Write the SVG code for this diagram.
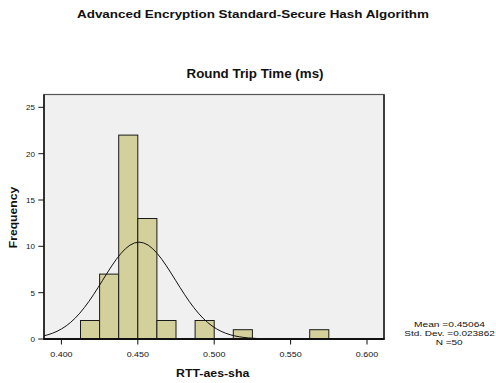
<svg xmlns="http://www.w3.org/2000/svg" width="496" height="383" viewBox="0 0 496 383">
  <style>
    text { font-family: "Liberation Sans", Arial, sans-serif; fill: #111; }
    .title { font-size: 11.6px; font-weight: bold; }
    .axis-title { font-size: 11.5px; font-weight: bold; }
    .tick-label { font-size: 8px; }
    .stats { font-size: 8px; }
    .bar { fill: #d4d09c; stroke: #1a1a1a; stroke-width: 1; }
    .tick { stroke: #111; stroke-width: 1; }
    .curve { fill: none; stroke: #111; stroke-width: 1; }
  </style>

  <rect width="496" height="383" fill="#ffffff"/>

  <!-- titles -->
  <text class="title" x="253" y="18.3" text-anchor="middle" textLength="352" lengthAdjust="spacingAndGlyphs">Advanced Encryption Standard-Secure Hash Algorithm</text>
  <text class="title" x="255" y="77.5" text-anchor="middle" style="font-size:12.4px" textLength="137" lengthAdjust="spacingAndGlyphs">Round Trip Time (ms)</text>

  <!-- plot area -->
  <rect x="44" y="94.5" width="340" height="244.5" fill="#f0f0f0" stroke="#555" stroke-width="1.2"/>
  <line x1="384" y1="94.5" x2="384" y2="339" stroke="#222" stroke-width="1.5"/>

  <!-- histogram bars (bin width 0.0125) -->
  <g id="bars">
    <rect class="bar" x="80.5" y="320.5" width="19.1" height="18.5"/>
    <rect class="bar" x="99.6" y="274.1" width="19.1" height="64.9"/>
    <rect class="bar" x="118.7" y="135.1" width="19.1" height="203.9"/>
    <rect class="bar" x="137.8" y="218.5" width="19.1" height="120.5"/>
    <rect class="bar" x="156.9" y="320.5" width="19.1" height="18.5"/>
    <rect class="bar" x="195.1" y="320.5" width="19.1" height="18.5"/>
    <rect class="bar" x="233.3" y="329.7" width="19.1" height="9.3"/>
    <rect class="bar" x="309.7" y="329.7" width="19.1" height="9.3"/>
  </g>

  <!-- fitted normal curve -->
  <g id="normal-curve">
    <polyline class="curve" points="44,335.8 47.93,334.75 52.49,333.23 57.04,331.3 61.6,328.87 66.16,325.9 70.72,322.3 75.27,318.06 79.83,313.14 84.39,307.56 88.95,301.38 93.51,294.67 98.06,287.57 102.62,280.27 107.18,272.97 111.74,265.91 116.29,259.35 120.85,253.55 125.41,248.75 129.97,245.15 134.52,242.92 139.08,242.17 143.64,242.92 148.2,245.15 152.75,248.75 157.31,253.55 161.87,259.35 166.43,265.91 170.98,272.97 175.54,280.27 180.1,287.57 184.66,294.67 189.21,301.38 193.77,307.56 198.33,313.14 202.89,318.06 207.44,322.3 212,325.9 216.56,328.87 221.12,331.3 225.67,333.23 230.23,334.75 234.79,335.91 239.35,336.79 243.9,337.45 248.46,337.92 257.58,338.51 266.69,338.79 275.81,338.91 284.92,338.97 300,339 384,339"/>
  </g>

  <!-- axes -->
  <g id="axes">
    <line x1="44" y1="94.5" x2="44" y2="339" stroke="#111" stroke-width="1.5"/>
    <line x1="43.3" y1="339" x2="384.7" y2="339" stroke="#111" stroke-width="2"/>
    <!-- y ticks -->
    <line class="tick" x1="38.3" y1="339" x2="44" y2="339"/>
    <line class="tick" x1="38.3" y1="292.7" x2="44" y2="292.7"/>
    <line class="tick" x1="38.3" y1="246.3" x2="44" y2="246.3"/>
    <line class="tick" x1="38.3" y1="200" x2="44" y2="200"/>
    <line class="tick" x1="38.3" y1="153.7" x2="44" y2="153.7"/>
    <line class="tick" x1="38.3" y1="107.3" x2="44" y2="107.3"/>
    <!-- x ticks -->
    <line class="tick" x1="61.4" y1="339" x2="61.4" y2="344.5"/>
    <line class="tick" x1="137.8" y1="339" x2="137.8" y2="344.5"/>
    <line class="tick" x1="214.2" y1="339" x2="214.2" y2="344.5"/>
    <line class="tick" x1="290.6" y1="339" x2="290.6" y2="344.5"/>
    <line class="tick" x1="367" y1="339" x2="367" y2="344.5"/>
  </g>

  <!-- tick labels -->
  <g id="y-labels" text-anchor="end">
    <text class="tick-label" x="35" y="341.8">0</text>
    <text class="tick-label" x="35" y="295.5">5</text>
    <text class="tick-label" x="35" y="249.1">10</text>
    <text class="tick-label" x="35" y="202.8">15</text>
    <text class="tick-label" x="35" y="156.5">20</text>
    <text class="tick-label" x="35" y="110.1">25</text>
  </g>
  <g id="x-labels" text-anchor="middle">
    <text class="tick-label" x="61.4" y="356.7" textLength="22.3" lengthAdjust="spacingAndGlyphs">0.400</text>
    <text class="tick-label" x="137.8" y="356.7" textLength="22.3" lengthAdjust="spacingAndGlyphs">0.450</text>
    <text class="tick-label" x="214.2" y="356.7" textLength="22.3" lengthAdjust="spacingAndGlyphs">0.500</text>
    <text class="tick-label" x="290.6" y="356.7" textLength="22.3" lengthAdjust="spacingAndGlyphs">0.550</text>
    <text class="tick-label" x="367" y="356.7" textLength="22.3" lengthAdjust="spacingAndGlyphs">0.600</text>
  </g>

  <!-- axis titles -->
  <text class="axis-title" x="212.7" y="376.7" text-anchor="middle" textLength="73.3" lengthAdjust="spacingAndGlyphs">RTT-aes-sha</text>
  <text class="axis-title" transform="translate(16.6,217.5) rotate(-90)" x="0" y="0" text-anchor="middle" style="font-size:10.8px" textLength="61.5" lengthAdjust="spacingAndGlyphs">Frequency</text>

  <!-- summary statistics -->
  <g id="stats" text-anchor="middle">
    <text class="stats" x="449.5" y="327.4" textLength="71" lengthAdjust="spacingAndGlyphs">Mean =0.45064</text>
    <text class="stats" x="449.5" y="336" textLength="90.5" lengthAdjust="spacingAndGlyphs">Std. Dev. =0.023862</text>
    <text class="stats" x="449.2" y="344.5" textLength="27" lengthAdjust="spacingAndGlyphs">N =50</text>
  </g>
</svg>
